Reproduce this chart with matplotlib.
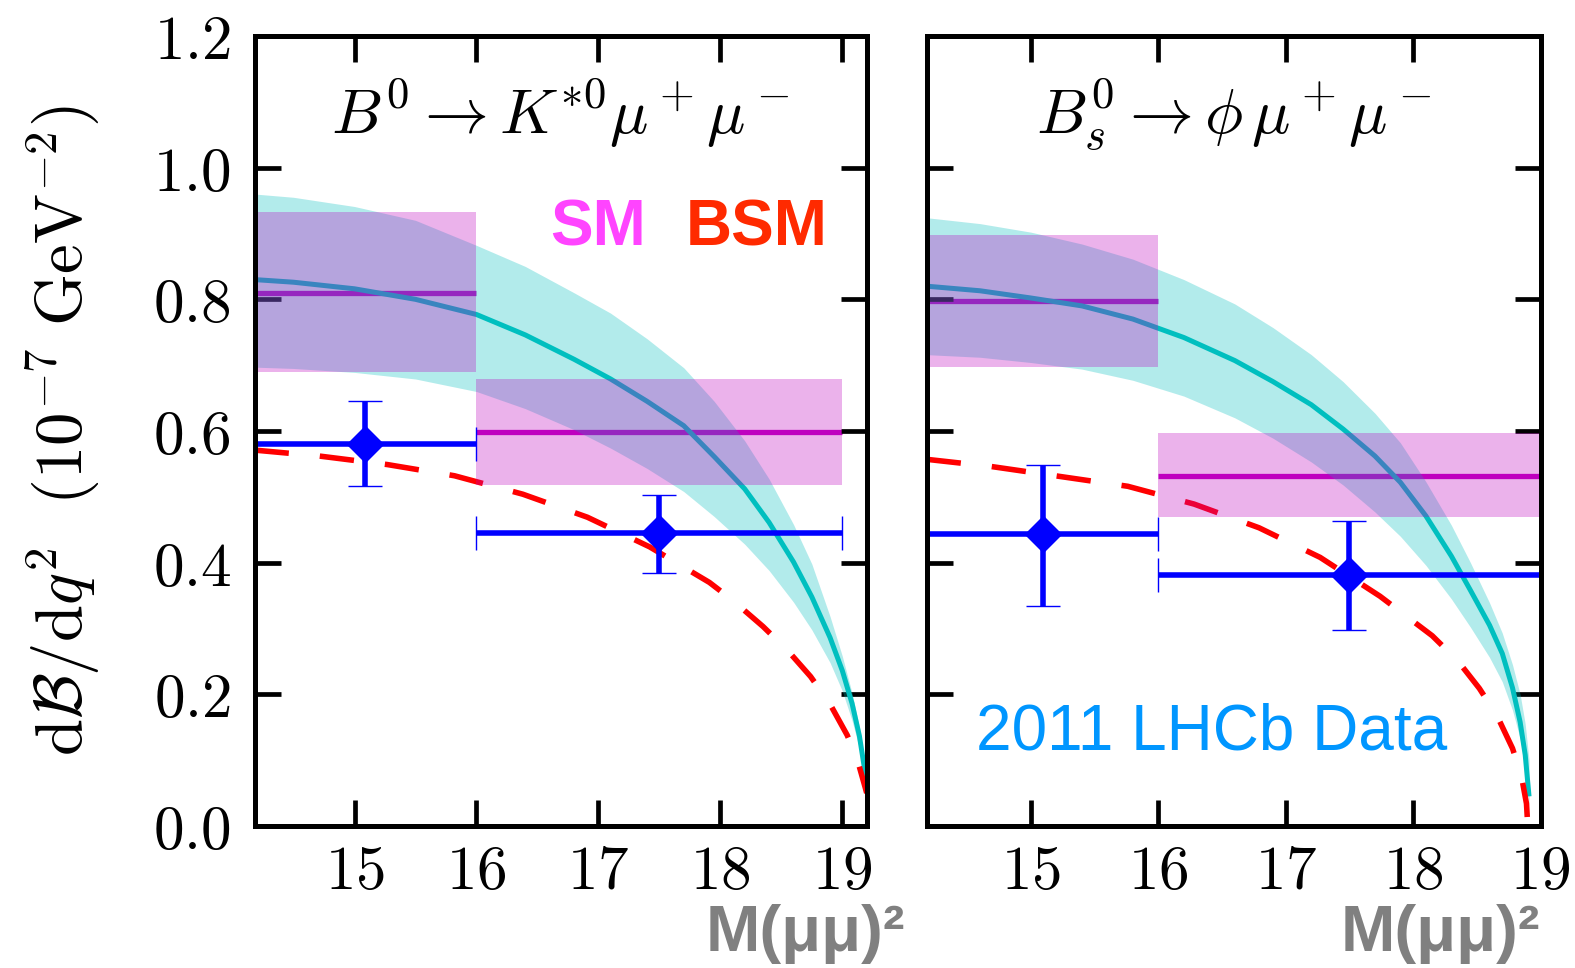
import matplotlib
matplotlib.use("Agg")
import matplotlib.pyplot as plt
from matplotlib import font_manager

plt.rcParams['mathtext.fontset'] = 'cm'
plt.rcParams['font.family'] = ['DejaVu Sans']

# ---------------- data ----------------
x_ticks = [15, 16, 17, 18, 19]
x_tick_labels = ['$15$', '$16$', '$17$', '$18$', '$19$']
y_ticks = [0.0, 0.2, 0.4, 0.6, 0.8, 1.0, 1.2]
y_tick_labels = ['$0.0$', '$0.2$', '$0.4$', '$0.6$', '$0.8$', '$1.0$', '$1.2$']

bin_lo = [14.18, 16.0]
bin_hi = [16.0, 19.0]
bin_center = [15.09, 17.5]

# B0 -> K*0 mu mu : SM binned predictions
kst_sm_mid = [0.810, 0.598]
kst_sm_lo = [0.689, 0.518]
kst_sm_hi = [0.932, 0.679]
# LHCb data
kst_data = [0.581, 0.445]
kst_err_up = [0.065, 0.058]
kst_err_dn = [0.065, 0.060]
# SM curve + band
kst_q2 = [14.18, 14.5, 15.0, 15.5, 16.0, 16.4, 16.8, 17.1, 17.4, 17.7,
          17.95, 18.2, 18.4, 18.6, 18.75, 18.9, 19.0, 19.08, 19.14, 19.2]
kst_curve = [0.830, 0.826, 0.816, 0.800, 0.777, 0.746, 0.709, 0.679, 0.645, 0.608,
             0.561, 0.512, 0.461, 0.401, 0.348, 0.286, 0.236, 0.186, 0.137, 0.066]
kst_band_hi = [0.960, 0.955, 0.941, 0.920, 0.882, 0.850, 0.810, 0.779, 0.740, 0.696,
               0.645, 0.585, 0.527, 0.458, 0.398, 0.318, 0.258, 0.202, 0.150, 0.075]
kst_band_lo = [0.697, 0.695, 0.689, 0.679, 0.660, 0.634, 0.602, 0.574, 0.543, 0.508,
               0.470, 0.428, 0.388, 0.340, 0.298, 0.248, 0.205, 0.160, 0.118, 0.055]
# BSM curve
kst_bsm_q2 = [14.18, 14.71, 15.27, 15.82, 16.38, 16.91, 17.42, 17.91, 18.1, 18.35,
              18.55, 18.74, 18.9, 19.04, 19.12, 19.19, 19.2]
kst_bsm = [0.571, 0.562, 0.549, 0.532, 0.504, 0.469, 0.424, 0.370, 0.343, 0.303,
           0.267, 0.227, 0.185, 0.138, 0.103, 0.057, 0.050]

# Bs -> phi mu mu
phi_sm_mid = [0.797, 0.532]
phi_sm_lo = [0.697, 0.469]
phi_sm_hi = [0.897, 0.597]
phi_data = [0.443, 0.381]
phi_err_up = [0.105, 0.082]
phi_err_dn = [0.109, 0.084]
phi_q2 = [14.18, 14.6, 15.0, 15.4, 15.8, 16.2, 16.6, 16.9, 17.2, 17.45, 17.7,
          17.9, 18.1, 18.3, 18.45, 18.6, 18.7, 18.78, 18.84, 18.88, 18.91]
phi_curve = [0.820, 0.813, 0.802, 0.790, 0.770, 0.742, 0.707, 0.675, 0.640, 0.603, 0.562,
             0.522, 0.471, 0.410, 0.358, 0.305, 0.262, 0.210, 0.158, 0.108, 0.045]
phi_band_hi = [0.924, 0.915, 0.902, 0.884, 0.861, 0.830, 0.793, 0.757, 0.716, 0.675, 0.627,
               0.582, 0.523, 0.457, 0.400, 0.339, 0.293, 0.245, 0.200, 0.155, 0.100]
phi_band_lo = [0.716, 0.712, 0.704, 0.694, 0.677, 0.653, 0.620, 0.589, 0.553, 0.518, 0.477,
               0.440, 0.396, 0.345, 0.302, 0.256, 0.219, 0.176, 0.133, 0.090, 0.030]
phi_bsm_q2 = [14.18, 14.69, 15.19, 15.76, 16.28, 16.79, 17.27, 17.74, 18.15, 18.35,
              18.52, 18.66, 18.78, 18.85, 18.89, 18.90]
phi_bsm = [0.557, 0.546, 0.532, 0.516, 0.489, 0.453, 0.408, 0.349, 0.289, 0.251,
           0.209, 0.167, 0.118, 0.076, 0.034, 0.0]

titles = [r'$B^0\rightarrow K^{*0}\mu^+\mu^-$', r'$B_s^0\rightarrow \phi\,\mu^+\mu^-$']
ylabel = r'$\mathrm{d}\mathcal{B}/\mathrm{d}q^2\ \ (10^{-7}\ \mathrm{GeV}^{-2})$'

# ---------------- figure ----------------
W, H = 1575, 968
fig = plt.figure(figsize=(W / 100, H / 100), dpi=100)

def frac_axes(x0, x1, y0, y1):
    return [x0 / W, 1 - y1 / H, (x1 - x0) / W, (y1 - y0) / H]

ax1 = fig.add_axes(frac_axes(254.5, 866.7, 36, 826))
ax2 = fig.add_axes(frac_axes(926.6, 1540.5, 36, 826))

MAG = (0.75, 0, 0.75)
CYAN = (0, 0.75, 0.75)

panels = [
    (ax1, (14.18, 19.2), kst_sm_mid, kst_sm_lo, kst_sm_hi, kst_data, kst_err_up, kst_err_dn,
     kst_q2, kst_curve, kst_band_lo, kst_band_hi, kst_bsm_q2, kst_bsm, titles[0], True),
    (ax2, (14.18, 19.0), phi_sm_mid, phi_sm_lo, phi_sm_hi, phi_data, phi_err_up, phi_err_dn,
     phi_q2, phi_curve, phi_band_lo, phi_band_hi, phi_bsm_q2, phi_bsm, titles[1], False),
]

for (ax, xlim, sm_mid, sm_lo, sm_hi, dat, eup, edn, q2, curve, blo, bhi, bq2, bsm, title, lab) in panels:
    for i in range(2):
        ax.plot([bin_lo[i], bin_hi[i]], [sm_mid[i], sm_mid[i]], color=MAG,
                lw=3.8, solid_capstyle='butt', zorder=1)
    ax.fill_between(q2, blo, bhi, color=CYAN, alpha=0.3, lw=0, zorder=2)
    ax.plot(q2, curve, color=CYAN, lw=3.6, zorder=3, solid_capstyle='butt',
            solid_joinstyle='round')
    ax.plot(bq2, bsm, color='red', lw=4.0, dashes=(6.2, 5.6), zorder=3)
    for i in range(2):
        ax.fill_between([bin_lo[i], bin_hi[i]], [sm_lo[i]] * 2, [sm_hi[i]] * 2,
                        color=MAG, alpha=0.3, lw=0, zorder=4)
    xerr = [[bin_center[i] - bin_lo[i] for i in range(2)],
            [bin_hi[i] - bin_center[i] for i in range(2)]]
    ax.errorbar(bin_center, dat, xerr=xerr, yerr=[edn, eup], fmt='D', color='blue',
                ms=18.5, mew=1, lw=4.0, capsize=12, capthick=4.0, zorder=6)

    ax.set_xlim(*xlim)
    ax.set_ylim(0, 1.2)
    ax.set_xticks(x_ticks)
    ax.set_xticklabels(x_tick_labels)
    ax.set_yticks(y_ticks)
    if lab:
        ax.set_yticklabels(y_tick_labels)
    else:
        ax.set_yticklabels([])
    ax.tick_params(direction='in', length=19, width=3.4, top=True, right=True,
                   labelsize=44, colors='black')
    ax.tick_params(axis='x', pad=12)
    ax.tick_params(axis='y', pad=17)
    for s in ax.spines.values():
        s.set_linewidth(3.6)
        s.set_zorder(10)
    ax.text(0.5, 0.876, title, transform=ax.transAxes, ha='center', va='baseline',
            fontsize=46)

fig.text(63 / W, 1 - 431 / H, ylabel, rotation=90, ha='center', va='center', fontsize=48)

fig.text(550 / W, 1 - 245 / H, 'SM', color='#ff44ff', fontsize=46, fontweight='bold',
         family='Liberation Sans', ha='left', va='baseline')
fig.text(686 / W, 1 - 245 / H, 'BSM', color='#ff2a00', fontsize=46, fontweight='bold',
         family='Liberation Sans', ha='left', va='baseline')
fig.text(976 / W, 1 - 749 / H, '2011 LHCb Data', color='#0096ff', fontsize=46,
         family='Liberation Sans', ha='left', va='baseline')
for xr in (905, 1540):
    fig.text(xr / W, 1 - 951 / H, 'M(μμ)²', color='#808080', fontsize=47, fontweight='bold',
             family='Liberation Sans', ha='right', va='baseline')

fig.savefig('out.png', dpi=100)
